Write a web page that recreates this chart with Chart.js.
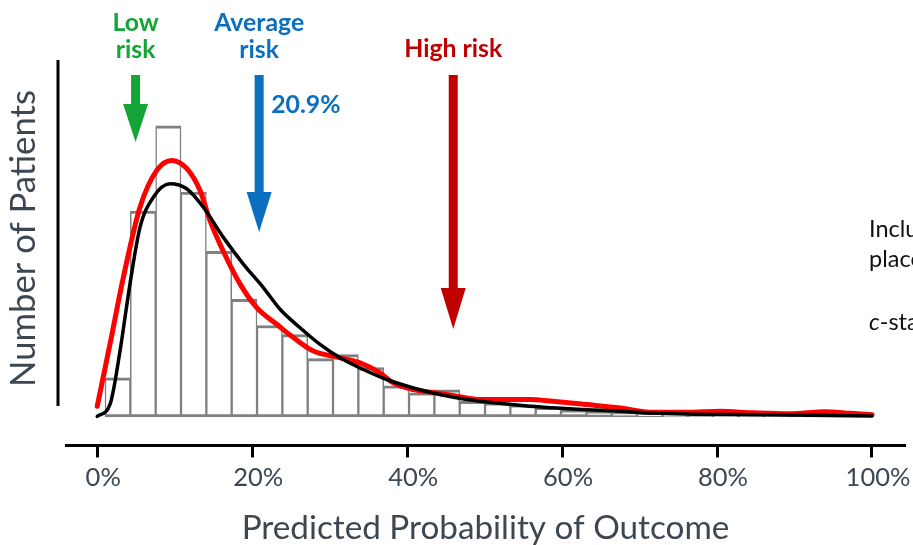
<!DOCTYPE html>
<html>
<head>
<meta charset="utf-8">
<script src="https://cdn.jsdelivr.net/npm/chart.js@4.4.1/dist/chart.umd.min.js"></script>
<style>
  html, body { margin: 0; padding: 0; background: #ffffff; }
  #wrap { width: 913px; height: 545px; overflow: hidden; }
</style>
</head>
<body>
<div id="wrap"><canvas id="c" width="913" height="545"></canvas></div>
<script>
// ---------------- DATA ----------------
// histogram bin centres (predicted probability, %)
const binCenters = [2.64, 5.91, 9.18, 12.45, 15.72, 18.99, 22.26, 25.53, 28.80, 32.07,
                    35.34, 38.61, 41.88, 45.15, 48.42, 51.69, 54.96, 58.23, 61.50, 64.77,
                    68.04, 71.31, 74.58, 77.85, 81.12, 84.39, 87.66, 90.93, 94.20, 97.47];
// number of patients per bin
const binCounts = [39, 205, 290, 224, 165, 117, 91, 82, 58, 62,
                   49, 31, 24, 27, 15.5, 14, 12, 9.5, 7, 5.5,
                   4, 2.5, 2, 2, 1.5, 1.5, 1, 1, 1, 1];
// smoothed density of observed outcomes (red)
const redX = [0, 1.65, 3.37, 5.52, 7.68, 9.62, 11.55, 13.27, 14.56, 16.24, 18.43, 20.59, 23.17, 24.89,
              27.9, 30.92, 33.92, 36.5, 38.22, 40.8, 43.82, 46.4, 49.41, 53.7, 55.87, 58.8, 63.2, 67.5,
              71.7, 76.0, 80.4, 84.6, 89.4, 93.9, 97.2, 100];
const redY = [10.5, 72.5, 138.8, 208.8, 245.5, 255.5, 247.5, 225.5, 195.5, 165.5, 132.5, 108.8, 92.2, 81.5,
              65.5, 59.5, 53.8, 43.8, 33.8, 27.2, 23.8, 20.5, 17.2, 17.2, 17.2, 15.5, 12.2, 8.8,
              4.5, 4.5, 5.5, 4, 3, 5.2, 3.5, 2];
// fitted model density (black)
const blackX = [0, 1.65, 2.94, 4.23, 5.52, 7.24, 9.39, 11.55, 13.7, 16.28, 18.86, 21.44, 23.6, 26.18,
                28.76, 31.34, 34.35, 37.37, 40.8, 44.25, 47.7, 51.57, 55.87, 58.8, 63.2, 67.5, 71.7,
                76.1, 84.65, 92.0, 100];
const blackY = [0.5, 12.5, 65.5, 132.5, 188.8, 218.8, 232.2, 227.2, 208.8, 178.8, 152.2, 128.8, 107.2, 88.8,
                72.2, 58.8, 47.2, 37.2, 28.8, 22.2, 17.2, 13.8, 10.5, 9, 7.2, 5.5, 3.8,
                2.8, 2.2, 1.6, 0.8];
// x axis tick values (%)
const xTickValues = [0, 20, 40, 60, 80, 100];
// risk annotations
const riskNames  = [["Low", "risk"], ["Average", "risk"], ["High risk"]];
const riskValues = [4.95, 20.9, 45.95];
const riskNote   = ["", "20.9%", ""];
const rightText  = ["Included", "placebo", "c-statistic"];

// ---------------- STYLE ----------------
const FONT = "Lato, 'Open Sans', sans-serif";
const textGray = '#3d4752';
const riskColors = ['#13a535', '#0a6fc1', '#c00000'];
const arrowGeom = [ // shaft top, head top, tip (pixels)
  {top: 75, head: 104, tip: 142},
  {top: 75, head: 192, tip: 232},
  {top: 75, head: 288, tip: 329}
];

const mctx = document.createElement('canvas').getContext('2d');
function fitSize(text, width, weight) {
  mctx.font = `${weight} 100px ${FONT}`;
  return 100 * width / mctx.measureText(text).width;
}
const titleSize = fitSize('Predicted Probability of Outcome', 488, 'normal');
const yTitleSize = fitSize('Number of Patients', 297, 'normal');
const tickSize = fitSize('20%', 50, 'normal');
const annSize = fitSize('Average', 90, 'bold');

const overlay = {
  id: 'overlay',
  afterDraw(chart) {
    const ctx = chart.ctx;
    const xs = chart.scales.x;
    ctx.save();
    // left vertical axis stroke
    ctx.strokeStyle = '#000';
    ctx.lineWidth = 3;
    ctx.beginPath();
    ctx.moveTo(58, 60);
    ctx.lineTo(58, 406);
    ctx.stroke();
    // y title
    ctx.save();
    ctx.translate(35, 238.5);
    ctx.rotate(-Math.PI / 2);
    ctx.fillStyle = textGray;
    ctx.font = `normal ${yTitleSize}px ${FONT}`;
    ctx.textAlign = 'center';
    ctx.textBaseline = 'alphabetic';
    ctx.fillText('Number of Patients', 0, 0);
    ctx.restore();
    // risk arrows + labels
    riskValues.forEach((v, i) => {
      const cx = xs.getPixelForValue(v);
      const g = arrowGeom[i];
      ctx.fillStyle = riskColors[i];
      ctx.fillRect(cx - 4.5, g.top, 9, g.head - g.top + 1);
      ctx.beginPath();
      ctx.moveTo(cx - 12.5, g.head);
      ctx.lineTo(cx + 12.5, g.head);
      ctx.lineTo(cx, g.tip);
      ctx.closePath();
      ctx.fill();
      ctx.font = `bold ${annSize}px ${FONT}`;
      ctx.textAlign = 'center';
      ctx.textBaseline = 'alphabetic';
      const lines = riskNames[i];
      if (lines.length === 2) {
        ctx.fillText(lines[0], cx, 31);
        ctx.fillText(lines[1], cx, 58);
      } else {
        ctx.fillText(lines[0], cx, 57);
      }
      if (riskNote[i]) {
        ctx.textAlign = 'left';
        ctx.fillText(riskNote[i], cx + 12, 113);
      }
    });
    // right side text (cut off by the page edge)
    ctx.fillStyle = '#111';
    ctx.textAlign = 'left';
    ctx.font = `normal 23.5px ${FONT}`;
    ctx.fillText(rightText[0], 869, 237);
    ctx.fillText(rightText[1], 869, 267);
    ctx.font = `italic 23.5px ${FONT}`;
    ctx.fillText('c', 869, 330);
    const cw = ctx.measureText('c').width;
    ctx.font = `normal 23.5px ${FONT}`;
    ctx.fillText(rightText[2].slice(1), 869 + cw, 330);
    ctx.restore();
  }
};

new Chart(document.getElementById('c'), {
  type: 'bar',
  data: {
    datasets: [
      {
        type: 'line',
        label: 'Fitted',
        data: blackX.map((x, i) => ({x, y: blackY[i]})),
        borderColor: '#000000',
        borderWidth: 3.5,
        pointRadius: 0,
        fill: false,
        cubicInterpolationMode: 'monotone',
        borderCapStyle: 'round',
        order: 1
      },
      {
        type: 'line',
        label: 'Observed',
        data: redX.map((x, i) => ({x, y: redY[i]})),
        borderColor: '#ff0000',
        borderWidth: 5,
        pointRadius: 0,
        fill: false,
        cubicInterpolationMode: 'monotone',
        borderCapStyle: 'round',
        order: 2
      },
      {
        type: 'bar',
        label: 'Patients',
        data: binCenters.map((x, i) => ({x, y: binCounts[i]})),
        backgroundColor: '#ffffff',
        borderColor: '#808080',
        borderWidth: {top: 3, bottom: 3, left: 1.5, right: 1.5},
        borderSkipped: false,
        barPercentage: 1,
        categoryPercentage: 1,
        order: 3
      }
    ]
  },
  options: {
    responsive: false,
    animation: false,
    devicePixelRatio: 1,
    layout: { padding: { left: 66, right: 8, top: 60, bottom: -3 } },
    plugins: { legend: { display: false }, tooltip: { enabled: false }, title: { display: false } },
    scales: {
      x: {
        type: 'linear',
        min: -4.03,
        max: 104.26,
        offset: false,
        afterBuildTicks: (s) => { s.ticks = xTickValues.map(v => ({value: v})); },
        grid: { display: true, drawOnChartArea: false, drawTicks: true, tickLength: 12, tickWidth: 3, tickColor: '#000', offset: false },
        border: { display: true, color: '#000', width: 3 },
        ticks: {
          callback: (v) => v + '%',
          font: { family: FONT, size: tickSize },
          color: textGray,
          padding: 5,
          labelOffset: 6,
          maxRotation: 0,
          autoSkip: false
        },
        title: {
          display: true,
          text: 'Predicted Probability of Outcome',
          font: { family: FONT, size: titleSize },
          color: textGray,
          padding: { top: 10, bottom: 0 }
        }
      },
      y: {
        display: false,
        min: -28.5,
        max: 355.5
      }
    }
  },
  plugins: [overlay]
});
</script>
</body>
</html>
